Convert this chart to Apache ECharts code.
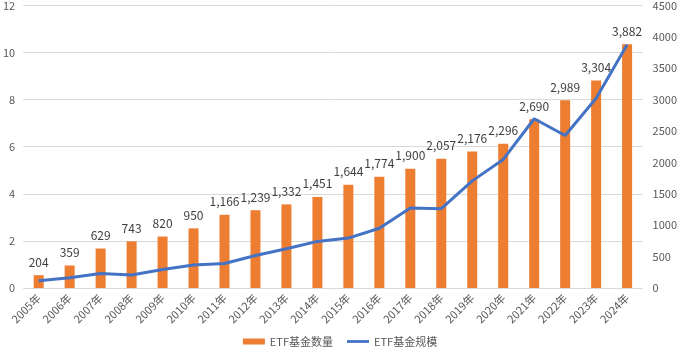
<!DOCTYPE html>
<html>
<head>
<meta charset="utf-8">
<script src="https://cdn.jsdelivr.net/npm/echarts@6/dist/echarts.min.js"></script>
<style>html,body{margin:0;padding:0;background:#fff}#c{width:680px;height:353px}</style>
</head>
<body>
<div id="c"></div>
<script>
const categories = ['2005年','2006年','2007年','2008年','2009年','2010年','2011年','2012年','2013年','2014年','2015年','2016年','2017年','2018年','2019年','2020年','2021年','2022年','2023年','2024年'];
const fundCount = [204,359,629,743,820,950,1166,1239,1332,1451,1644,1774,1900,2057,2176,2296,2690,2989,3304,3882];
const fundScale = [0.31,0.44,0.62,0.55,0.79,0.98,1.04,1.38,1.67,1.98,2.12,2.54,3.4,3.37,4.55,5.46,7.19,6.48,8.06,10.33];
const leftTicks = {min:0, max:12, interval:2};
const rightTicks = {min:0, max:4500, interval:500};

const FONT = '"Noto Sans CJK SC", "Noto Sans", sans-serif';
const chart = echarts.init(document.getElementById('c'), null, {renderer:'canvas'});
chart.setOption({
  animation:false,
  textStyle:{fontFamily:FONT},
  grid:{left:18, right:30, top:3, bottom:65, containLabel:false},
  legend:{
    bottom:1, left:'center', itemGap:14,
    textStyle:{color:'#595959', fontSize:11, fontFamily:FONT},
    data:[
      {name:'ETF基金数量', icon:'rect', itemStyle:{color:'#ED7D31'}},
      {name:'ETF基金规模', icon:'path://M0,0H8V1H0Z', itemStyle:{color:'#4472C4'}}
    ],
    itemWidth:22, itemHeight:6
  },
  xAxis:{
    type:'category', data:categories,
    axisLine:{show:false}, axisTick:{show:false},
    axisLabel:{rotate:45, color:'#595959', fontSize:11, margin:8, interval:0, fontFamily:FONT}
  },
  yAxis:[
    {type:'value', min:leftTicks.min, max:leftTicks.max, interval:leftTicks.interval,
     axisLabel:{color:'#595959', fontSize:11, margin:8, fontFamily:FONT},
     splitLine:{lineStyle:{color:'#D9D9D9', width:1}}, axisLine:{show:false}, axisTick:{show:false}},
    {type:'value', min:rightTicks.min, max:rightTicks.max, interval:rightTicks.interval, position:'right',
     axisLabel:{color:'#595959', fontSize:11, margin:10, fontFamily:FONT, formatter:v=>String(v)},
     splitLine:{show:false}, axisLine:{show:false}, axisTick:{show:false}}
  ],
  series:[
    {name:'ETF基金数量', type:'bar', yAxisIndex:1, data:fundCount, barWidth:10,
     itemStyle:{color:'#ED7D31'},
     label:{show:true, position:'top', distance:7, color:'#404040', fontSize:12, fontFamily:FONT,
       formatter:p=>p.value.toLocaleString('en-US')}},
    {name:'ETF基金规模', type:'line', yAxisIndex:0, data:fundScale, showSymbol:false, symbol:'none',
     lineStyle:{color:'#4472C4', width:3}, itemStyle:{color:'#4472C4'}, z:5}
  ]
});
</script>
</body>
</html>
